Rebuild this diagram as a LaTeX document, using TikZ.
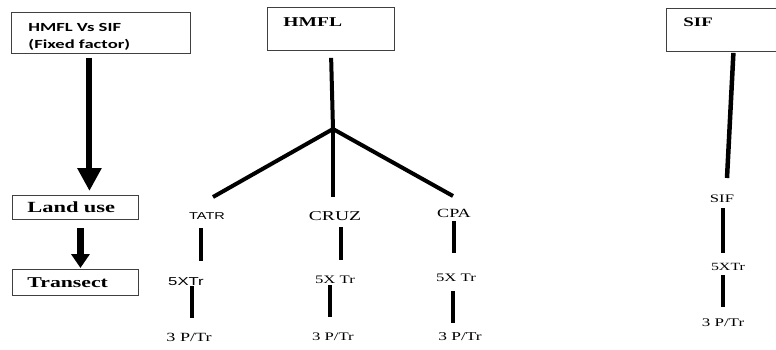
\documentclass[tikz,border=0pt]{standalone}
\usepackage{fontspec}
\setmainfont{Liberation Serif}[FakeStretch=1.45]
\setsansfont{Liberation Sans}[FakeStretch=1.45]
\newfontfamily\calibri{Carlito}[FakeStretch=1.5]
\usetikzlibrary{arrows.meta}

\begin{document}
\begin{tikzpicture}[x=1pt,y=-1pt,
  box/.style={draw=black!75,line width=0.9pt,anchor=north west,inner ysep=0pt,align=left},
  lab/.style={inner sep=0pt,text height=8pt,text depth=0pt},
  stem/.style={line width=4.5pt},
  limb/.style={line width=4pt},
  fat/.style={line width=6pt}]
\useasboundingbox (0,0) rectangle (776,349);
\clip (0,0) rectangle (776,349);

% left column: factor boxes
\node[box,inner xsep=17pt,text width=145pt,minimum height=41pt,
  font={\calibri\bfseries\fontsize{12.4}{17}\selectfont}] (fixed) at (11,12) {\rule{0pt}{15.5pt}HMFL Vs SIF\\(Fixed factor)};
\node[box,inner xsep=15pt,text width=96pt,minimum height=24pt,
  font={\bfseries\fontsize{15.5}{17}\selectfont}] (land) at (12,195) {Land use};
\node[box,inner xsep=15pt,text width=96pt,minimum height=26pt,
  font={\bfseries\fontsize{15}{17}\selectfont}] (tran) at (12,269) {Transect};
\draw[fat,-{Triangle[width=23pt,length=23pt]},shorten <=4pt,shorten >=4pt]
  ([xshift=-11.5pt]fixed.south) -- ([xshift=14pt]land.north);
\draw[fat,line width=6.5pt,-{Triangle[width=18pt,length=14pt]},shorten <=8pt,shorten >=1pt]
  ([xshift=5pt]land.south) -- ([xshift=5pt]tran.north);

% HMFL tree
\node[box,inner xsep=16pt,text width=95pt,text height=19.5pt,text depth=23.5pt,
  font={\bfseries\fontsize{13.5}{15}\selectfont}] (hmfl) at (267,7) {HMFL};
\coordinate (j) at (333,129);
\coordinate (bl) at (213,197);
\coordinate (bm) at (333,197);
\coordinate (br) at (453,196);
\draw[limb,shorten <=7pt] (hmfl.south) -- (j);
\draw[limb] (j) -- (bl);
\draw[limb] (j) -- (bm);
\draw[limb] (j) -- (br);

\node[lab,font={\sffamily\fontsize{10}{12}\selectfont}] (tatr) at (207,215) {TATR};
\node[lab,font={\sffamily\fontsize{11.5}{13}\selectfont}] (tatrx) at (186,281) {5XTr};
\node[lab,font={\fontsize{12.5}{14}\selectfont}] (tatrp) at (189,337) {3 P/Tr};
\draw[stem,shorten <=9pt,shorten >=16pt] ([xshift=-6pt]tatr.south) -- ([xshift=-6pt]tatr.south |- tatrx.north);
\draw[stem,shorten <=1pt,shorten >=15pt] ([xshift=6pt]tatrx.south) -- ([xshift=6pt]tatrx.south |- tatrp.north);

\node[lab,font={\fontsize{13.5}{15}\selectfont}] (cruz) at (335,216) {CRUZ};
\node[lab,font={\fontsize{11.5}{13}\selectfont}] (cruzx) at (335,279) {5X Tr};
\node[lab,font={\fontsize{11.5}{13}\selectfont}] (cruzp) at (333,336) {3 P/Tr};
\draw[stem,shorten <=7pt,shorten >=15pt] ([xshift=6pt]cruz.south) -- ([xshift=6pt]cruz.south |- cruzx.north);
\draw[stem,shorten <=2pt,shorten >=15pt] ([xshift=-5pt]cruzx.south) -- ([xshift=-5pt]cruzx.south |- cruzp.north);

\node[lab,font={\fontsize{12.5}{14}\selectfont}] (cpa) at (454,213) {CPA};
\node[lab,font={\fontsize{11.5}{13}\selectfont}] (cpax) at (456,277) {5X Tr};
\node[lab,font={\fontsize{12}{14}\selectfont}] (cpap) at (460,336) {3 P/Tr};
\draw[stem,shorten <=4pt,shorten >=20pt] (cpa.south) -- (cpa.south |- cpax.north);
\draw[stem,shorten <=10pt,shorten >=9pt] ([xshift=-3pt]cpax.south) -- ([xshift=-3pt]cpax.south |- cpap.north);

% SIF branch
\node[box,inner xsep=17pt,text width=106pt,text height=18pt,text depth=25pt,
  font={\bfseries\fontsize{13}{15}\selectfont}] (sifbox) at (666,8) {SIF};
\coordinate (sifend) at (727,178);
\draw[stem,shorten <=1pt] ([xshift=-3pt]sifbox.south) -- (sifend);

\node[lab,font={\fontsize{11.5}{13}\selectfont}] (sif) at (722,198) {SIF};
\node[lab,font={\fontsize{11}{13}\selectfont}] (sifx) at (728,266) {5XTr};
\node[lab,font={\fontsize{11.7}{13}\selectfont}] (sifp) at (723,322) {3 P/Tr};
\draw[stem,shorten <=6pt,shorten >=9pt] ([xshift=1pt]sif.south) -- ([xshift=1pt]sif.south |- sifx.north);
\draw[stem,shorten <=5pt,shorten >=11pt] ([xshift=-5pt]sifx.south) -- ([xshift=-5pt]sifx.south |- sifp.north);
\end{tikzpicture}
\end{document}
